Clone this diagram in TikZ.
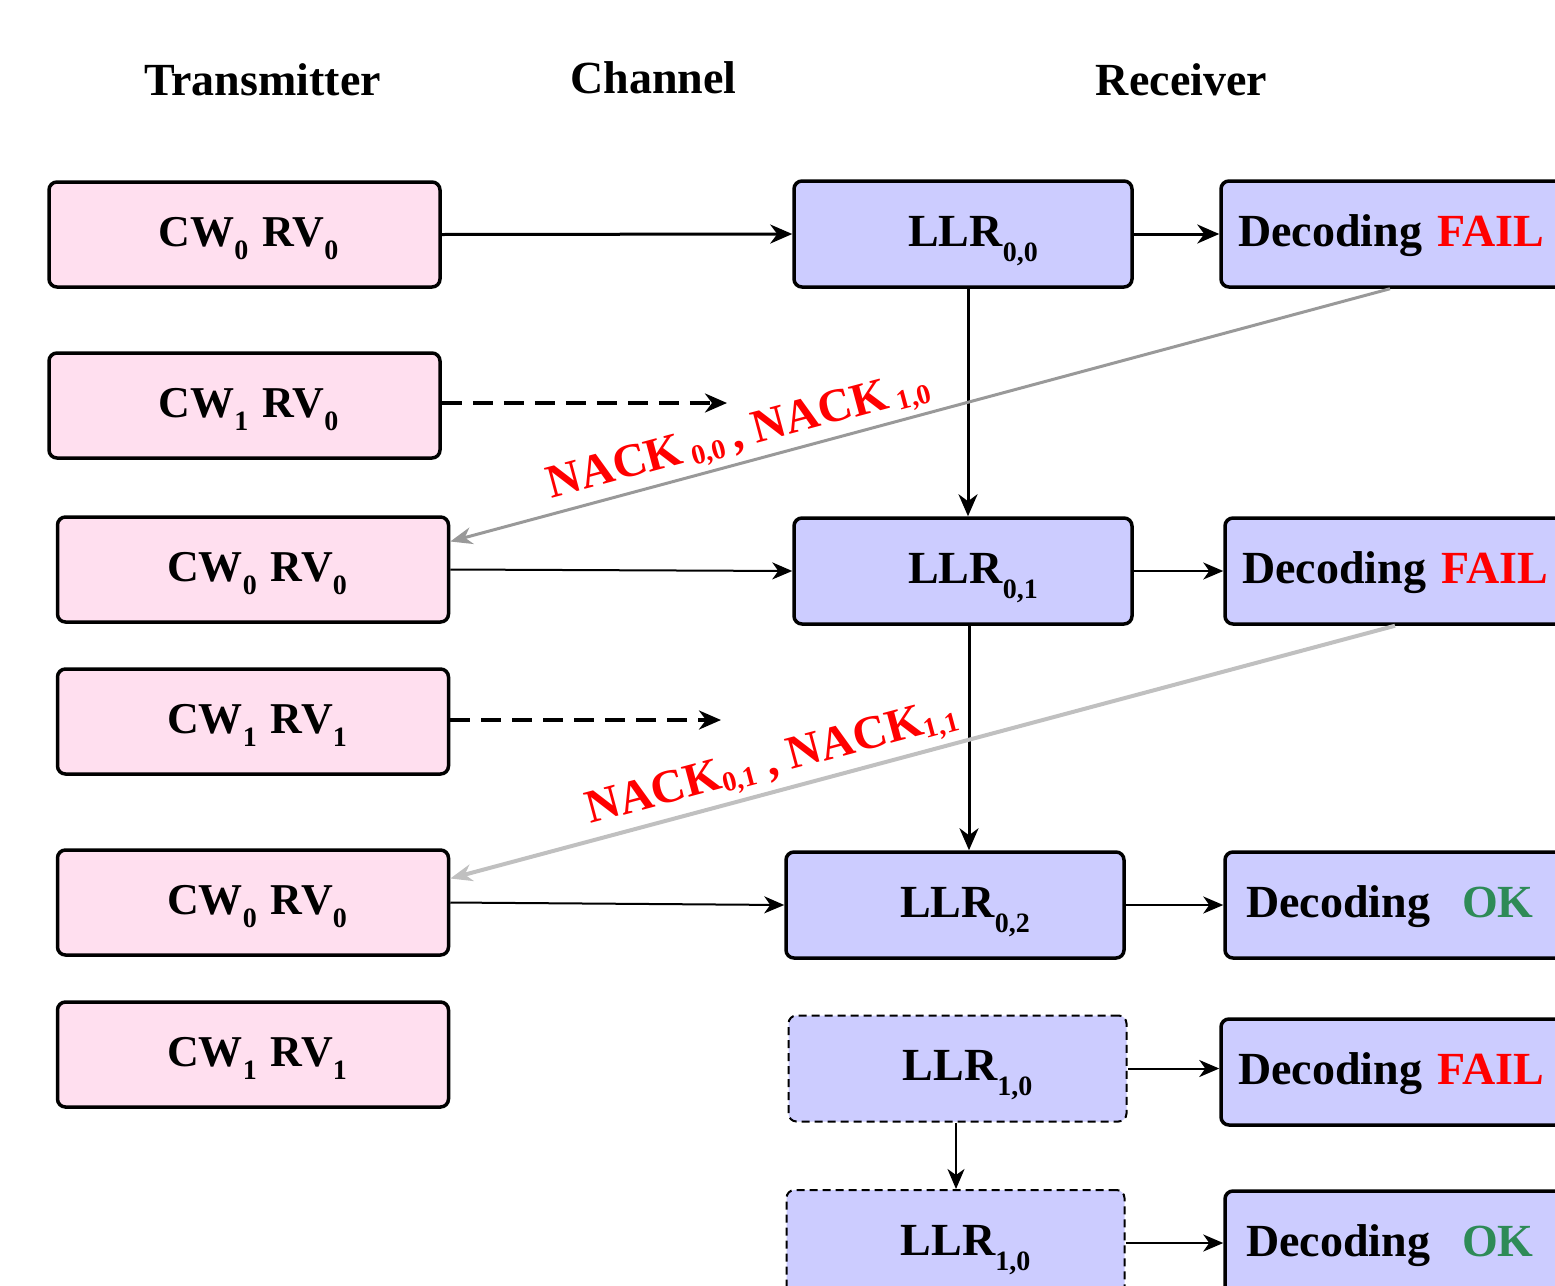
\documentclass[tikz,border=0pt]{standalone}
\usepackage{fontspec}
\setmainfont{Liberation Serif}
\usetikzlibrary{arrows.meta,calc}
\definecolor{pinkfill}{HTML}{FFDFEF}
\definecolor{lavfill}{HTML}{CCCCFF}
\definecolor{okgreen}{HTML}{2E8B57}
\definecolor{nackgray}{HTML}{999999}
\definecolor{nackgrayb}{HTML}{C0C0C0}
\newcommand\mysb[2][13pt]{\raisebox{-#1}{\fontsize{28}{28}\selectfont #2}}
\begin{document}
\begin{tikzpicture}[x=1pt,y=-1pt,
  txbox/.style={draw,rounded corners=8pt,line width=3.5pt,fill=pinkfill,
    minimum width=391pt,minimum height=105pt,inner sep=0pt,
    font=\bfseries\fontsize{44}{48}\selectfont,text height=30pt,text depth=6pt},
  llrbox/.style={draw,rounded corners=8pt,line width=3.5pt,fill=lavfill,
    minimum width=338pt,minimum height=106pt,inner sep=0pt,
    font=\bfseries\fontsize{46}{50}\selectfont,text height=30pt,text depth=6pt},
  llrdash/.style={llrbox,line width=2pt,dash pattern=on 8pt off 5pt},
  decbox/.style={draw,rounded corners=8pt,line width=3.5pt,fill=lavfill,
    minimum height=106pt,inner ysep=0pt,inner xsep=#1,text width=380pt-2*#1,align=left,
    font=\bfseries\fontsize{46}{50}\selectfont,text height=30pt,text depth=6pt},
  head/.style={font=\bfseries\fontsize{46}{50}\selectfont,anchor=base,inner sep=0pt},
  arr/.style={-{Stealth[length=22pt,width=19pt,inset=7pt]},line width=3pt},
  thinarr/.style={-{Stealth[length=20pt,width=17pt,inset=6pt]},line width=2pt},
  dasharr/.style={arr,line width=3.5pt,dash pattern=on 20pt off 11pt},
  nackarr/.style={-{Stealth[length=22pt,width=17pt,inset=7pt]},line width=3pt},
  nack/.style={text=red,font=\bfseries\fontsize{47}{50}\selectfont,rotate=15,inner sep=0pt}
]
\clip (0,0) rectangle (1555,1285);
\useasboundingbox (0,0) rectangle (1555,1285);

% headings
\node[head] (hT) at (262.5,95) {Transmitter};
\node[head] (hC) at (653.5,93) {Channel};
\node[head] (hR) at (1181.5,95) {Receiver};

% transmitter boxes
\node[txbox] (t1) at (244.5,234.5) {\hspace*{8pt}CW\mysb{0}\hspace{3pt} RV\mysb{0}};
\node[txbox] (t2) at (244.5,405.5) {\hspace*{8pt}CW\mysb{1}\hspace{3pt} RV\mysb{0}};
\node[txbox] (t3) at (253,569.5) {\hspace*{8pt}CW\mysb{0}\hspace{3pt} RV\mysb{0}};
\node[txbox] (t4) at (253,721.5) {\hspace*{8pt}CW\mysb{1}\hspace{3pt} RV\mysb{1}};
\node[txbox] (t5) at (253,902.5) {\hspace*{8pt}CW\mysb{0}\hspace{3pt} RV\mysb{0}};
\node[txbox] (t6) at (253,1054.5) {\hspace*{8pt}CW\mysb{1}\hspace{3pt} RV\mysb{1}};

% LLR boxes
\node[llrbox] (l1) at (963,234) {\hspace*{20pt}LLR\mysb[15pt]{0,0}};
\node[llrbox] (l2) at (963,571) {\hspace*{20pt}LLR\mysb[15pt]{0,1}};
\node[llrbox] (l3) at (955,905) {\hspace*{20pt}LLR\mysb[15pt]{0,2}};
\node[llrdash] (l4) at (957.5,1068.5) {\hspace*{20pt}LLR\mysb[15pt]{1,0}};
\node[llrdash] (l5) at (955.5,1243) {\hspace*{20pt}LLR\mysb[15pt]{1,0}};

% decoding boxes
\node[decbox=17pt] (d1) at (1411,234) {Decoding {\color{red}FAIL}};
\node[decbox=17pt] (d2) at (1415,571) {Decoding {\color{red}FAIL}};
\node[decbox=21pt] (d3) at (1415,905) {Decoding\hspace{32pt}{\color{okgreen}OK}};
\node[decbox=17pt] (d4) at (1411,1072) {Decoding {\color{red}FAIL}};
\node[decbox=21pt] (d5) at (1415,1244) {Decoding\hspace{32pt}{\color{okgreen}OK}};

% channel end points of lost transmissions
\coordinate (c1) at (727,403);
\coordinate (c2) at (721,720);

% connectors
\draw[arr] (t1.east) -- (l1.west);
\draw[dasharr] (t2.east |- c1) -- (c1);
\draw[arr] (l1.east) -- (d1.west);
\draw[arr] ([xshift=5pt]l1.south) -- ([xshift=5pt]l1.south |- l2.north);
\draw[nackarr,nackgray] ([xshift=-21pt]d1.south) -- ([yshift=28pt]t3.east);
\node[nack] (n1) at (739,437) {NACK\,\mysb[5pt]{0,0}\,, NACK\,\mysb[5pt]{1,0}};

\draw[thinarr] (t3.east) -- (l2.west);
\draw[thinarr] (l2.east) -- (d2.west);
\draw[dasharr] (t4.east |- c2) -- (c2);
\draw[arr] ([xshift=6pt]l2.south) -- ([xshift=6pt]l2.south |- l3.north);
\draw[nackarr,nackgrayb,line width=4pt] ([xshift=-20pt]d2.south) -- ([yshift=24pt]t5.east);
\node[nack] (n2) at (772,764) {NACK\mysb[5pt]{0,1} , NACK\mysb[5pt]{1,1}};

\draw[thinarr] (t5.east) -- (l3.west);
\draw[thinarr] (l3.east) -- (d3.west);
\draw[thinarr] (l4.east) -- (l4.east -| d4.west);
\draw[thinarr] ([xshift=-1.5pt]l4.south) -- ([xshift=-1.5pt]l4.south |- l5.north);
\draw[thinarr] (l5.east) -- (l5.east -| d5.west);
\end{tikzpicture}
\end{document}
